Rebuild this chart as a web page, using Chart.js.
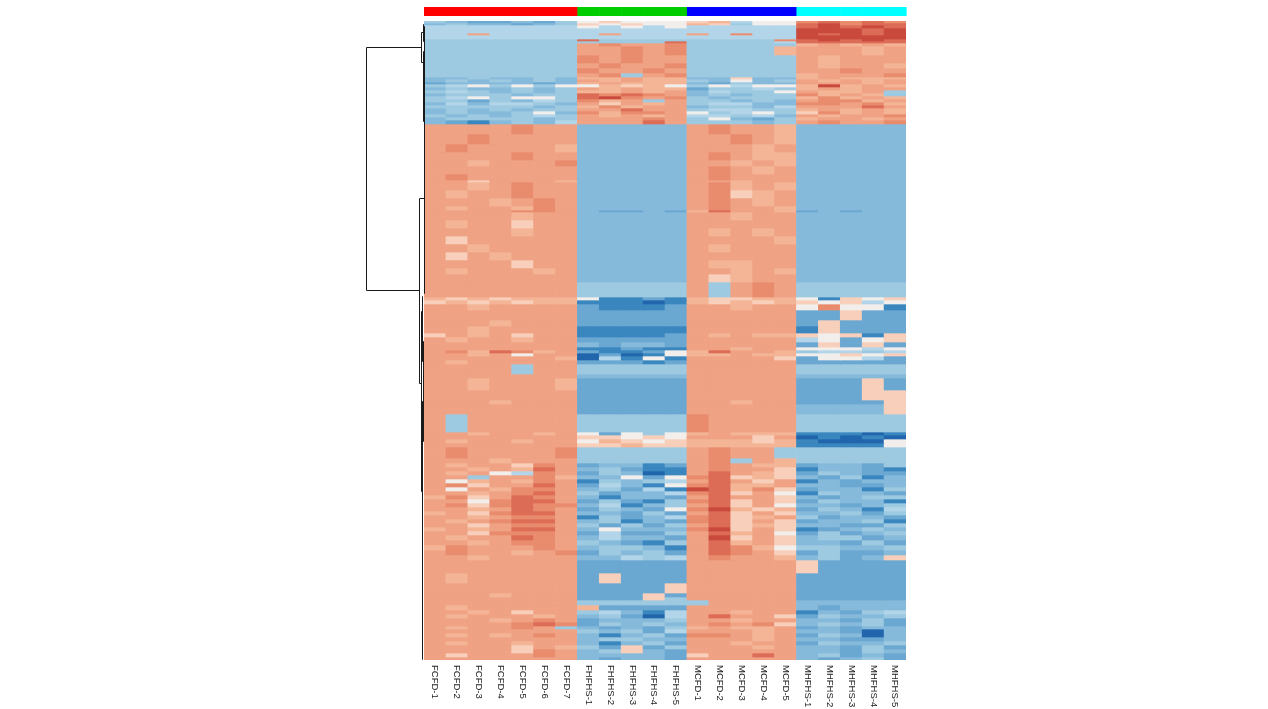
<!DOCTYPE html>
<html>
<head>
<meta charset="utf-8">
<title>Heatmap</title>
<script src="https://cdn.jsdelivr.net/npm/chart.js@4.4.1/dist/chart.umd.min.js"></script>
<style>
  html, body { margin: 0; padding: 0; background: #fff; }
  #wrap { width: 1268px; height: 709px; position: relative; }
</style>
</head>
<body>
<div id="wrap"><canvas id="heatmap"></canvas></div>
<script>
const samples = [
  "FCFD-1", "FCFD-2", "FCFD-3", "FCFD-4", "FCFD-5", "FCFD-6", "FCFD-7",
  "FHFHS-1", "FHFHS-2", "FHFHS-3", "FHFHS-4", "FHFHS-5",
  "MCFD-1", "MCFD-2", "MCFD-3", "MCFD-4", "MCFD-5",
  "MHFHS-1", "MHFHS-2", "MHFHS-3", "MHFHS-4", "MHFHS-5"
];
const groups = samples.map((s) => s.split("-")[0]);
const groupColors = { FCFD: "#ff0000", FHFHS: "#00cd00", MCFD: "#0000ff", MHFHS: "#00ffff" };

// z-score levels: one code character per level, deep blue -> deep red
const levelCodes = "123456789abcd";
const levelValues = [-3, -2.5, -2, -1.5, -1, -0.5, 0, 0.5, 1, 1.5, 2, 2.5, 3];
const levelColors = [
  "#2166ac", "#3a87bf", "#6aa8d2", "#86badb", "#9ecae1", "#b3d5e9", "#f1eeec",
  "#f8cfba", "#f4b597", "#f0a284", "#e98c6e", "#dc6c55", "#c9493d"
];

// row bands, top to bottom: [number of rows, one code per sample]
const rowBands = [
  [2, "5433435 78777 89677 bcbcb"],
  [2, "4544345 87877 98577 cdbcc"],
  [3, "6666666 76767 66666 cdcdc"],
  [5, "6666666 66666 66666 dddcd"],
  [2, "66a6666 6a666 a6b66 dcdcd"],
  [4, "6666666 66666 66666 ddddd"],
  [2, "5555555 c5555 5555b cdcdc"],
  [2, "5555555 5555c 55556 ccccc"],
  [3, "5555555 abaab 55555 9a9a9"],
  [9, "5555555 aabab 55559 aaa9a"],
  [8, "5555555 babaa 55555 a9aaa"],
  [5, "5555555 abaab 55555 a9aa9"],
  [5, "5555555 baaba 55555 aabaa"],
  [4, "5555555 ab5ab 55555 9aaab"],
  [2, "4454454 99a99 44844 9a999"],
  [3, "4545454 a9a99 54745 a9a9a"],
  [2, "3444434 9a999 43544 aaa9a"],
  [3, "5675757 79897 57677 9d9a9"],
  [3, "4544545 a9a99 35565 9a9aa"],
  [3, "5654545 99a9a 46557 a99a5"],
  [3, "4555455 cbcba 45455 b9a95"],
  [3, "5675775 cdbab 54555 9b9a9"],
  [3, "5535465 b9a5a 55454 abb9a"],
  [3, "4646654 a8a9a 56644 bbab9"],
  [3, "5555545 9b9aa 45546 aaaca"],
  [3, "4545455 aacaa 56655 9a9a9"],
  [3, "4544574 b9bba 75675 8b9a9"],
  [3, "5454565 a9a9a 66564 a9aab"],
  [3, "4555545 aaaba 57435 9aa9a"],
  [4, "4324546 aaaca 55545 abaab"],
  [10, "aaaabaa 44444 abaa9 44444"],
  [10, "aabaaaa 44444 aaba9 44444"],
  [8, "abaaaa9 44444 aaa9a 44444"],
  [8, "aaaabaa 44444 aba99 44444"],
  [6, "aa9aaab 44444 aa9a9 44444"],
  [8, "aaaaaaa 44444 aba9a 44444"],
  [6, "abaaaaa 44444 abaaa 44444"],
  [2, "aa8aaa9 44444 aa9aa 44444"],
  [8, "aa9abaa 44444 ab9a9 44444"],
  [8, "a9aabaa 44444 ab89a 44444"],
  [8, "aaa9aba 44444 aba9a 44444"],
  [4, "a9aa9ba 44444 abaa9 44444"],
  [2, "aaaabba 43343 9caa9 34344"],
  [8, "aaaa9aa 44444 aa9aa 44444"],
  [8, "a9aa8aa 44444 aaaaa 44444"],
  [8, "aaaa9aa 44444 a9a9a 44444"],
  [8, "a8aaaaa 44444 aaaa9 44444"],
  [8, "aa9aaaa 44444 a9aaa 44444"],
  [8, "a8a9aaa 44444 aaaaa 44444"],
  [8, "aaaa8aa 44444 a99aa 44444"],
  [6, "a9aaa9a 44444 aa9a9 44444"],
  [8, "aaaaaaa 44444 a89aa 44444"],
  [15, "aaaaaaa 55555 a5aba 55555"],
  [3, "9898999 72232 98899 72878"],
  [4, "8989899 22212 98989 87867"],
  [6, "aa9aaaa 32223 aa9aa 7b772"],
  [10, "aaaaaaa 33333 aaaaa 33833"],
  [6, "aaa9aaa 33333 aaaaa 38333"],
  [7, "aa9aaaa 22222 aaaaa 28333"],
  [4, "8a9a8aa 22223 a9a99 87828"],
  [5, "a9aa9aa 33333 aaaaa 67378"],
  [5, "aaaaaaa 43443 aaaaa 38383"],
  [3, "aaaaaaa 22322 aa9aa 77767"],
  [3, "ab9cb9a 32237 9caa9 56656"],
  [3, "aa9a7aa 13127 99a99 77878"],
  [4, "aaaaaa9 16272 aaaa8 37763"],
  [4, "a9aaaaa 33323 aaaaa 33333"],
  [10, "aaaa5aa 55555 aaaaa 55555"],
  [4, "aaaaaaa 44444 aaaaa 44444"],
  [12, "aa9aaa9 33333 aaaaa 33383"],
  [10, "aaaaaaa 33333 aaaaa 33388"],
  [4, "aaa9aaa 33333 aa9aa 33338"],
  [10, "aaaaaaa 33333 aaaaa 44448"],
  [18, "a5aaaaa 55555 baaaa 55555"],
  [3, "aa9aa9a 73757 9a999 22212"],
  [4, "aaaaaaa 88787 aaa8a 12121"],
  [4, "a9aa9aa 79878 99989 21117"],
  [4, "aaaaaaa 88988 99999 22227"],
  [11, "abaaaab 55555 abaa5 55555"],
  [5, "aaa9aaa 55555 ab5a9 55555"],
  [4, "a9aa8ba 34423 aba99 34435"],
  [4, "aa9a9ca 45322 abaa8 24432"],
  [4, "a9a76ba 35412 aca98 35433"],
  [4, "aa5aab9 44737 bc898 43524"],
  [4, "a79a9ba 25456 aca8a 24344"],
  [4, "ab8aaca 36427 bc99a 44334"],
  [4, "a7a9bba 45362 dc9b8 34425"],
  [4, "aa9abca 53446 bc8a7 25443"],
  [4, "9b8acba 42443 acaa8 43455"],
  [4, "aa7bcca 35325 bc8a8 35442"],
  [4, "ab8bcbb 46245 ac8a7 44345"],
  [4, "aa9acba 35437 bd989 35426"],
  [4, "9a8bcca 44353 ac8a8 44535"],
  [4, "aa9abba 25346 bc89a 53443"],
  [4, "a9abcca 45243 bc8a8 34452"],
  [4, "aa8abba 53535 ac898 44335"],
  [4, "9a9acca 47444 bd8a8 23454"],
  [4, "aa8bbba 36335 ac9a7 35345"],
  [5, "a9aacba 46443 ad8a8 45534"],
  [5, "aa9abba 54325 ac9a8 44353"],
  [5, "9baaaba 45542 acb97 55445"],
  [5, "abaa9ab 35453 acba8 35334"],
  [5, "aa9aaaa 44656 abaa9 45348"],
  [13, "aaaaaaa 33333 aaaaa 83333"],
  [10, "a9aaaaa 38333 aaaaa 33333"],
  [10, "aaaaaaa 33338 aaaaa 33333"],
  [4, "aaa9aaa 33383 aaaaa 33333"],
  [3, "aaaaaaa 33385 aaaaa 33333"],
  [5, "aaaaaaa 55555 5aaaa 44444"],
  [5, "a9aaaaa 93333 aaaaa 43444"],
  [4, "aa9a8aa 56426 aa9aa 24356"],
  [4, "a9aaa9a 45316 acaa8 35445"],
  [4, "aaa9aba 34445 aa9aa 44353"],
  [4, "aaaabcb 35454 abab8 45453"],
  [3, "a9aaba5 43435 9a99a 34344"],
  [4, "aaaaaaa 54536 aaa9a 44314"],
  [4, "a9a9aba 42453 bba9a 35414"],
  [4, "aaaaaaa 45544 aaa9a 44334"],
  [4, "a9aa9aa 42453 aa9aa 35445"],
  [4, "aaaa8a9 53835 aaa9a 44353"],
  [4, "aaaa8ba 45843 aaaaa 44354"],
  [4, "a8aaaba 44443 8aaca 45343"],
  [3, "aaaaaaa 43443 aaaaa 43453"]
];

// dendrogram merges in row units: [height, top row, bottom row, top child height, bottom child height]
const dendroLinks = [
  [1.0, 26, 269, 0.05, 0.086],
  [0.05, 11, 41, 0.02, 0.025],
  [0.02, 3, 20, 0.008, 0.005],
  [0.025, 30, 70, 0.01, 0.012],
  [0.012, 60, 100, 0.005, 0.004],
  [0.086, 177, 362, 0.005, 0.045],
  [0.005, 5, 272, 0.002, 0.002],
  [0.045, 290, 470, 0.035, 0.04],
  [0.035, 275, 340, 0.02, 0.025],
  [0.025, 320, 420, 0.015, 0.02],
  [0.04, 410, 600, 0.035, 0.038],
  [0.035, 380, 480, 0.03, 0.025],
  [0.038, 520, 635, 0.032, 0.03],
  [0.032, 470, 560, 0.02, 0.025],
  [0.03, 590, 638, 0.015, 0.02]
];

function codeToValue(ch) {
  return levelValues[levelCodes.indexOf(ch)];
}

function valueToColor(v) {
  const i = levelValues.findIndex((lv) => Math.abs(lv - v) < 1e-6);
  return levelColors[i < 0 ? 6 : i];
}

const datasets = rowBands.map(([rows, codes]) => {
  const values = codes.replace(/\s/g, "").split("").map(codeToValue);
  return {
    data: samples.map(() => rows),
    zscores: values,
    backgroundColor: values.map(valueToColor),
    borderWidth: 0,
    barPercentage: 1,
    categoryPercentage: 1,
  };
});
const totalRows = rowBands.reduce((sum, b) => sum + b[0], 0);

function drawDendrogram(ctx, area, yScale) {
  const span = 58;
  const hx = (h) => area.left - h * span;
  ctx.save();
  ctx.strokeStyle = "#1a1a1a";
  ctx.lineWidth = 1;
  ctx.beginPath();
  dendroLinks.forEach(([h, r1, r2, h1, h2]) => {
    const x = Math.round(hx(h)) + 0.5;
    const y1 = Math.round(yScale.getPixelForValue(r1)) + 0.5;
    const y2 = Math.round(yScale.getPixelForValue(r2)) + 0.5;
    ctx.moveTo(Math.round(hx(h1)), y1);
    ctx.lineTo(x, y1);
    ctx.lineTo(x, y2);
    ctx.lineTo(Math.round(hx(h2)), y2);
  });
  ctx.stroke();
  ctx.restore();
}

const heatmapExtras = {
  id: "heatmapExtras",
  afterDraw(chart) {
    const { ctx, chartArea, scales } = chart;
    const xs = scales.x;
    const colW = xs.getPixelForValue(1) - xs.getPixelForValue(0);

    // group colour bar above the columns
    samples.forEach((s, i) => {
      ctx.fillStyle = groupColors[groups[i]];
      ctx.fillRect(xs.getPixelForValue(i) - colW / 2, chartArea.top - 14, colW + 0.6, 9);
    });

    // sample names, rotated to read downwards
    ctx.save();
    ctx.fillStyle = "#222";
    ctx.font = "9.5px 'Liberation Sans', Arial, sans-serif";
    ctx.textAlign = "left";
    ctx.textBaseline = "middle";
    samples.forEach((s, i) => {
      ctx.save();
      ctx.translate(xs.getPixelForValue(i), chartArea.bottom + 5);
      ctx.rotate(Math.PI / 2);
      ctx.fillText(s, 0, 0);
      ctx.restore();
    });
    ctx.restore();

    drawDendrogram(ctx, chartArea, scales.y);
  },
};

new Chart(document.getElementById("heatmap"), {
  type: "bar",
  data: { labels: samples, datasets: datasets },
  options: {
    responsive: true,
    maintainAspectRatio: false,
    animation: false,
    layout: { padding: { left: 424, right: 362, top: 21, bottom: 49 } },
    scales: {
      x: { stacked: true, display: false },
      y: { stacked: true, display: false, reverse: true, min: 0, max: totalRows },
    },
    plugins: {
      legend: { display: false },
      title: { display: false },
      tooltip: { enabled: false },
    },
  },
  plugins: [heatmapExtras],
});
</script>
</body>
</html>
